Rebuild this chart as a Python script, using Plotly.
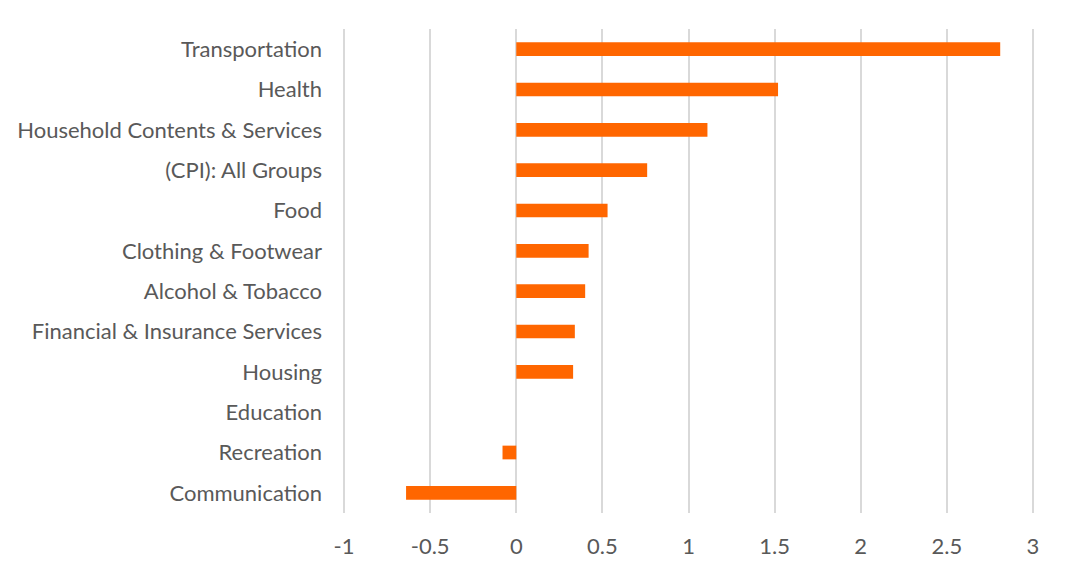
import plotly.graph_objects as go

categories = [
    "Transportation",
    "Health",
    "Household Contents & Services",
    "(CPI): All Groups",
    "Food",
    "Clothing & Footwear",
    "Alcohol & Tobacco",
    "Financial & Insurance Services",
    "Housing",
    "Education",
    "Recreation",
    "Communication",
]
values = [2.81, 1.52, 1.11, 0.76, 0.53, 0.42, 0.40, 0.34, 0.33, 0.0, -0.08, -0.64]

x_ticks = [-1, -0.5, 0, 0.5, 1, 1.5, 2, 2.5, 3]
x_tick_text = ["-1", "-0.5", "0", "0.5", "1", "1.5", "2", "2.5", "3"]

font_family = "Lato, 'Open Sans', sans-serif"
text_color = "#595959"
grid_color = "#d9d9d9"

fig = go.Figure(
    go.Bar(
        x=values,
        y=categories,
        orientation="h",
        marker=dict(color="#ff6600", line=dict(width=0)),
        width=0.34,
    )
)

fig.update_layout(
    width=1068,
    height=576,
    margin=dict(l=334, r=41, t=21, b=71),
    paper_bgcolor="white",
    plot_bgcolor="white",
    showlegend=False,
    font=dict(family=font_family, size=22, color=text_color),
)

fig.update_xaxes(
    automargin=False,
    range=[-1.012, 3.012],
    tickvals=x_ticks,
    ticktext=x_tick_text,
    showgrid=True,
    gridcolor=grid_color,
    gridwidth=1.5,
    zeroline=True,
    zerolinecolor=grid_color,
    zerolinewidth=1.5,
    showline=False,
    ticks="",
    ticklabelstandoff=18,
    tickfont=dict(family=font_family, size=22, color=text_color),
)

fig.update_yaxes(
    automargin=False,
    autorange="reversed",
    showgrid=False,
    zeroline=False,
    showline=False,
    ticks="",
    ticklabelstandoff=19,
    tickfont=dict(family=font_family, size=22, color=text_color),
)

fig.write_html("out.html")
